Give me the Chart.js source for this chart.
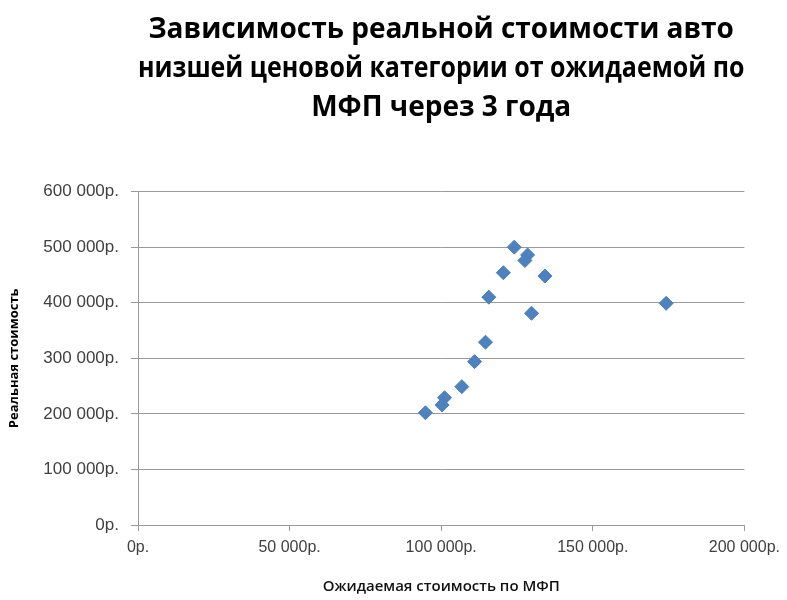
<!DOCTYPE html>
<html>
<head>
<meta charset="utf-8">
<script src="https://cdn.jsdelivr.net/npm/chart.js@4/dist/chart.umd.min.js"></script>
<style>
  html, body { margin: 0; padding: 0; background: #fff; }
  #wrap { width: 787px; height: 600px; }
</style>
</head>
<body>
<div id="wrap"><canvas id="grafica"></canvas></div>
<script>
// ожидаемая стоимость по МФП (ось X)
const ozhidaemaya = [124100, 128500, 127600, 120500, 134200, 115700, 129800, 174200, 114600, 111000, 106800, 101100, 100300, 94800];
// реальная стоимость (ось Y)
const realnaya = [500000, 486000, 476000, 454000, 448000, 410000, 381000, 399000, 329000, 294000, 249000, 229000, 216000, 202000];

const titulo = ["Зависимость реальной стоимости авто", "низшей ценовой категории от ожидаемой по", "МФП через 3 года"];

const puntos = ozhidaemaya.map((x, i) => ({ x: x, y: realnaya[i] }));

function formatoRub(v) {
  return String(v).replace(/\B(?=(\d{3})+(?!\d))/g, " ") + "р.";
}

const ctx = document.getElementById("grafica").getContext("2d");

new Chart(ctx, {
  type: "scatter",
  data: {
    datasets: [{
      label: "Реальная стоимость",
      data: puntos,
      pointStyle: "rectRot",
      pointRadius: 7,
      pointHoverRadius: 7,
      backgroundColor: "#4F81BD",
      borderColor: "#4A7EBB",
      borderWidth: 1
    }]
  },
  options: {
    responsive: true,
    maintainAspectRatio: false,
    animation: false,
    layout: { padding: { top: 10, right: 38, left: 0, bottom: 0 } },
    plugins: {
      legend: { display: false },
      tooltip: { enabled: false },
      title: {
        display: true,
        text: titulo,
        fullSize: false,
        color: "#000",
        font: { family: "'Open Sans', sans-serif", size: 28, weight: "bold", lineHeight: 1.4 },
        padding: { top: 0, bottom: 64 }
      }
    },
    scales: {
      x: {
        type: "linear",
        min: 0,
        max: 200000,
        afterFit: s => { s.height = 75; },
        ticks: {
          stepSize: 50000,
          color: "#404040",
          font: { family: "'Liberation Sans', sans-serif", size: 16 },
          padding: 7,
          callback: v => formatoRub(v)
        },
        grid: { drawOnChartArea: false, color: "#9a9a9a", tickLength: 6 },
        border: { color: "#9a9a9a", width: 1 },
        title: {
          display: true,
          text: "Ожидаемая стоимость по МФП",
          color: "#111",
          font: { family: "'Open Sans', sans-serif", size: 15, weight: "600" },
          padding: { top: 21 }
        }
      },
      y: {
        min: 0,
        max: 600000,
        afterFit: s => { s.width = 138; },
        ticks: {
          stepSize: 100000,
          color: "#404040",
          font: { family: "'Liberation Sans', sans-serif", size: 17 },
          padding: 12,
          callback: v => formatoRub(v)
        },
        grid: { color: "#9a9a9a", tickLength: 7 },
        border: { color: "#9a9a9a", width: 1 },
        title: {
          display: true,
          text: "Реальная стоимость",
          color: "#000",
          font: { family: "'Open Sans', sans-serif", size: 13, weight: "bold" },
          padding: { top: 6, bottom: 0 }
        }
      }
    }
  }
});
</script>
</body>
</html>
